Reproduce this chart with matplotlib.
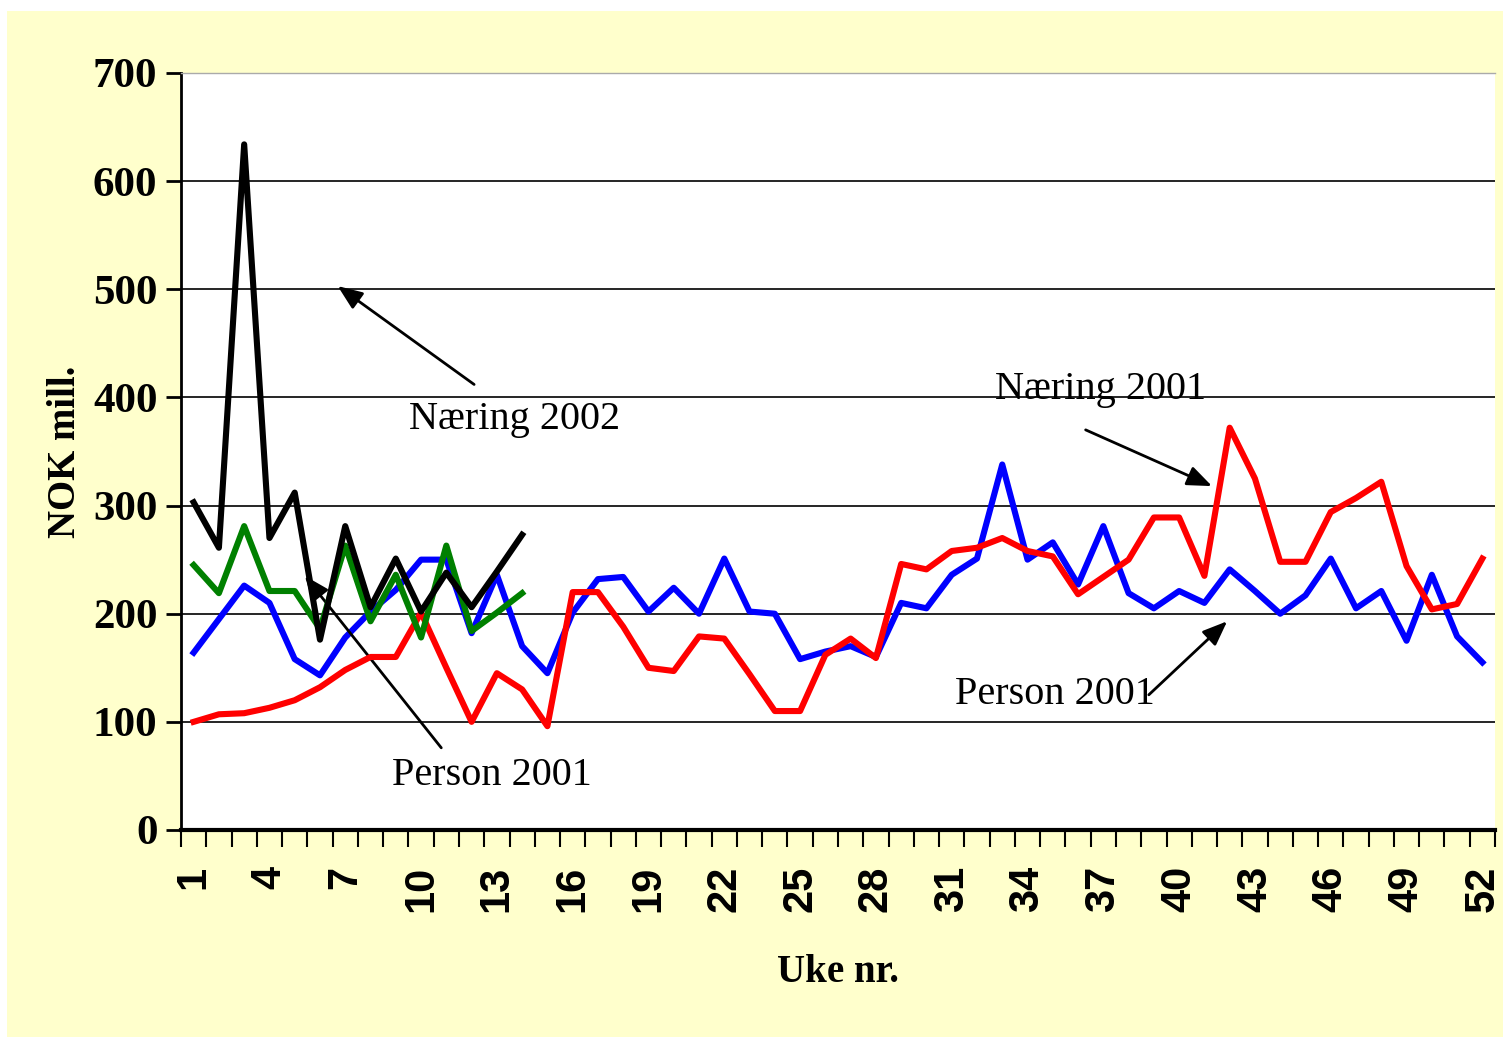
import matplotlib
matplotlib.use("Agg")
from matplotlib import pyplot as plt
from matplotlib.patches import Rectangle
import numpy as np

# ukenummer
uker = list(range(1, 53))
uker_2002 = list(range(1, 15))

# NOK mill. per uke
person_2001 = [164, 195, 226, 210, 158, 143, 178, 202, 222, 250, 250, 182, 236, 170,
               145, 201, 232, 234, 202, 224, 200, 251, 202, 200, 158, 165, 170, 160,
               210, 205, 236, 251, 338, 250, 266, 227, 281, 219, 205, 221, 210, 241,
               221, 200, 217, 251, 205, 221, 175, 236, 179, 155]
naering_2001 = [100, 107, 108, 113, 120, 132, 148, 160, 160, 201, 150, 100, 145, 130,
                96, 220, 220, 188, 150, 147, 179, 177, 144, 110, 110, 162, 177, 159,
                246, 241, 258, 261, 270, 258, 253, 218, 234, 250, 289, 289, 235, 372,
                325, 248, 248, 294, 307, 322, 244, 204, 209, 251]
person_2002 = [245, 219, 281, 221, 221, 186, 263, 193, 236, 178, 263, 184, 201, 219]
naering_2002 = [303, 261, 634, 270, 312, 176, 281, 206, 251, 202, 238, 206, 239, 273]

ticklabels = [str(u) for u in range(1, 53, 3)]

fig = plt.figure(figsize=(15.03, 10.37), dpi=100)
fig.patch.set_facecolor("white")
fig.patches.append(Rectangle((7 / 1503, 0), 1 - 7 / 1503, 1 - 11 / 1037,
                             transform=fig.transFigure, facecolor="#FFFFCC",
                             edgecolor="none", zorder=-10))

ax = fig.add_axes([181 / 1503, 1 - 830 / 1037, (1495 - 181) / 1503, (830 - 73) / 1037])
ax.set_facecolor("white")

lw = 4.4
ax.plot(uker, person_2001, color="#0000FF", lw=lw, zorder=3)
ax.plot(uker, naering_2001, color="#FF0000", lw=lw, zorder=4)
ax.plot(uker_2002, person_2002, color="#008000", lw=lw, zorder=5)
ax.plot(uker_2002, naering_2002, color="black", lw=lw, zorder=6)

ax.set_xlim(0.5, 52.5)
ax.set_ylim(0, 700)
ax.set_yticks(range(0, 701, 100))
ax.yaxis.grid(True, color="black", lw=1.2)
ax.set_axisbelow(True)

ax.set_xticks(range(1, 53, 3))
ax.set_xticklabels(ticklabels, rotation=90, fontsize=30, fontweight="bold",
                   family="Liberation Sans")
ax.set_xticks(np.arange(0.5, 53, 1), minor=True)
ax.tick_params(axis="x", which="major", length=0, pad=26)
ax.tick_params(axis="x", which="minor", length=12, width=1.5, direction="out")
ax.tick_params(axis="y", length=11, width=2, direction="out", pad=6)
for lab in ax.get_yticklabels():
    lab.set_fontsize(31)
    lab.set_fontweight("bold")
    lab.set_family("Liberation Serif")

ax.spines["right"].set_visible(False)
ax.spines["top"].set_color("#AAAAAA")
ax.spines["top"].set_linewidth(1)
ax.spines["left"].set_linewidth(2)
ax.spines["bottom"].set_linewidth(3)

ax.set_xlabel("Uke nr.", fontsize=28, fontweight="bold", family="Liberation Serif",
              labelpad=30)
ax.set_ylabel("NOK mill.", fontsize=28, fontweight="bold", family="Liberation Serif",
              labelpad=6)

# piler og tekster
tx = dict(fontsize=29, family="Liberation Serif", ha="center", va="center")
ap = dict(arrowstyle="-|>,head_length=1.5,head_width=0.6", color="black", lw=2,
          shrinkA=0, shrinkB=0)
ax.text(13.7, 380, "Næring 2002", **tx)
ax.annotate("", xy=(6.7, 503), xytext=(12.1, 412), arrowprops=ap)
ax.text(36.9, 407, "Næring 2001", **tx)
ax.annotate("", xy=(41.3, 318), xytext=(36.3, 370), arrowprops=ap)
ax.text(35.1, 125, "Person 2001", **tx)
ax.annotate("", xy=(41.9, 193), xytext=(38.8, 125), arrowprops=ap)
ax.text(12.8, 50, "Person 2001", **tx)
ax.annotate("", xy=(5.4, 235), xytext=(10.8, 76), arrowprops=ap)

fig.savefig("out.png", dpi=100, facecolor=fig.get_facecolor())
